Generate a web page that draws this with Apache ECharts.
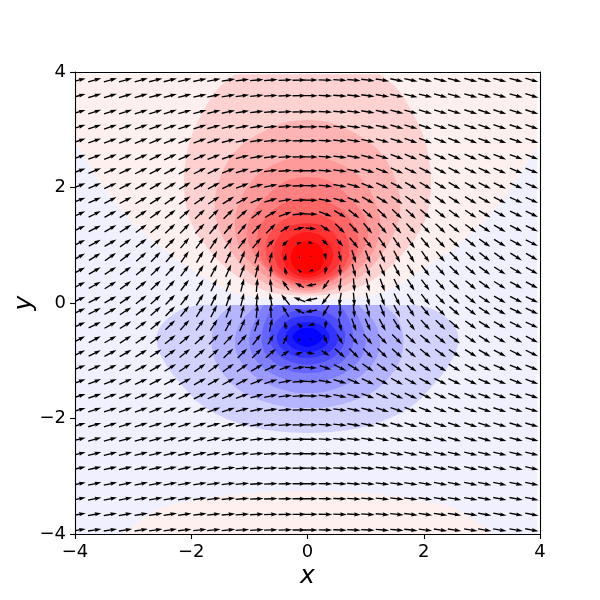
<!DOCTYPE html>
<html>
<head>
<meta charset="utf-8">
<style>html,body{margin:0;padding:0;background:#fff}#main{width:600px;height:600px}</style>
<script src="https://cdn.jsdelivr.net/npm/echarts@6/dist/echarts.min.js"></script>
</head>
<body>
<div id="main"></div>
<script>
// quiver grid (spacing is a bit wider near the edges)
var gridX = [-3.93,-3.66,-3.39,-3.13,-2.86,-2.61,-2.36,-2.11,-1.85,-1.61,-1.36,-1.12,-0.87,-0.63,-0.38,-0.14,0.06,0.31,0.56,0.8,1.04,1.29,1.54,1.78,2.03,2.29,2.53,2.81,3.05,3.31,3.59,3.86];
var gridY = [3.86,3.59,3.31,3.05,2.81,2.53,2.29,2.03,1.78,1.54,1.29,1.04,0.8,0.56,0.31,0.06,-0.14,-0.38,-0.63,-0.87,-1.12,-1.36,-1.61,-1.85,-2.11,-2.36,-2.61,-2.86,-3.13,-3.39,-3.66,-3.93];

// arrow direction in degrees, one row per gridY value
var angleRows = [
  [14,15,15,15,15,14,14,13,12,11,9,7,5,4,2,1,0,-2,-4,-5,-7,-9,-11,-12,-13,-14,-14,-15,-15,-15,-15,-16],
  [15,16,16,16,16,15,15,14,13,12,10,8,6,4,3,1,0,-3,-4,-6,-8,-10,-12,-13,-14,-15,-15,-16,-16,-16,-16,-17],
  [16,17,18,18,18,17,17,16,15,14,12,9,7,5,3,1,0,-3,-5,-7,-9,-12,-14,-15,-16,-17,-17,-18,-18,-18,-17,-18],
  [17,18,19,20,20,20,19,18,17,16,13,11,8,6,3,1,0,-3,-6,-8,-11,-13,-16,-17,-18,-19,-20,-20,-20,-19,-18,-19],
  [18,19,20,21,22,22,22,21,20,18,15,12,9,6,3,1,0,-3,-6,-9,-12,-15,-18,-20,-21,-22,-22,-22,-21,-20,-19,-20],
  [19,20,22,23,24,25,25,24,23,21,18,14,10,7,4,1,0,-4,-7,-10,-14,-18,-21,-23,-24,-25,-25,-24,-23,-22,-20,-21],
  [20,22,23,25,26,27,28,27,26,24,21,17,12,8,4,1,0,-4,-8,-12,-17,-21,-24,-26,-27,-28,-27,-26,-25,-23,-22,-22],
  [21,23,25,27,29,30,31,31,30,28,25,21,16,11,6,2,-1,-6,-11,-16,-21,-25,-28,-30,-31,-31,-30,-29,-27,-25,-23,-23],
  [22,24,27,29,31,33,35,35,35,34,32,29,22,16,10,3,-1,-10,-16,-22,-29,-32,-34,-35,-35,-35,-33,-31,-29,-27,-24,-24],
  [24,26,29,31,34,36,39,41,43,44,44,42,38,30,20,6,-2,-20,-30,-38,-42,-44,-44,-43,-41,-39,-36,-34,-31,-29,-26,-25],
  [25,27,30,33,36,39,43,46,48,50,50,50,47,45,34,12,-5,-34,-45,-47,-50,-50,-50,-48,-46,-43,-39,-36,-33,-30,-27,-26],
  [26,28,31,35,38,42,46,50,54,56,55,52,50,47,44,24,-15,-44,-47,-50,-52,-55,-56,-54,-50,-46,-42,-38,-35,-31,-28,-27],
  [30,32,35,38,42,46,50,55,59,62,65,68,72,76,80,84,-88,-80,-76,-72,-68,-65,-62,-59,-55,-50,-46,-42,-38,-35,-32,-31],
  [28,30,33,36,40,44,48,53,58,62,66,70,76,85,102,135,-160,-102,-85,-76,-70,-66,-62,-58,-53,-48,-44,-40,-36,-33,-30,-29],
  [27,29,32,36,39,43,48,53,58,64,70,76,85,97,125,152,-170,-125,-97,-85,-76,-70,-64,-58,-53,-48,-43,-39,-36,-32,-29,-28],
  [25,27,30,34,38,42,46,52,58,64,70,76,85,100,128,158,-168,-128,-100,-85,-76,-70,-64,-58,-52,-46,-42,-38,-34,-30,-27,-26],
  [24,26,29,33,37,41,46,51,58,63,69,75,84,92,120,154,-170,-120,-92,-84,-75,-69,-63,-58,-51,-46,-41,-37,-33,-29,-26,-25],
  [24,26,29,32,36,40,44,48,54,58,62,66,70,78,100,138,-160,-100,-78,-70,-66,-62,-58,-54,-48,-44,-40,-36,-32,-29,-26,-25],
  [27,28,30,33,35,37,39,41,43,45,47,49,52,60,66,65,-52,-66,-60,-52,-49,-47,-45,-43,-41,-39,-37,-35,-33,-30,-28,-28],
  [25,26,28,30,32,34,36,38,40,42,44,45,45,42,34,20,-9,-34,-42,-45,-45,-44,-42,-40,-38,-36,-34,-32,-30,-28,-26,-26],
  [22,23,25,27,29,31,32,34,35,36,36,35,31,26,19,9,-3,-19,-26,-31,-35,-36,-36,-35,-34,-32,-31,-29,-27,-25,-23,-23],
  [20,21,22,24,25,26,27,28,29,29,28,26,22,17,11,5,-2,-11,-17,-22,-26,-28,-29,-29,-28,-27,-26,-25,-24,-22,-21,-21],
  [18,19,20,21,22,23,24,25,25,24,23,20,16,12,7,3,-1,-7,-12,-16,-20,-23,-24,-25,-25,-24,-23,-22,-21,-20,-19,-19],
  [16,17,18,19,20,21,21,21,21,20,18,15,12,8,5,2,-1,-5,-8,-12,-15,-18,-20,-21,-21,-21,-21,-20,-19,-18,-17,-17],
  [15,16,17,17,18,18,18,18,18,16,14,12,9,6,4,1,0,-4,-6,-9,-12,-14,-16,-18,-18,-18,-18,-18,-17,-17,-16,-16],
  [14,15,15,16,16,16,16,15,15,14,12,10,7,5,3,1,0,-3,-5,-7,-10,-12,-14,-15,-15,-16,-16,-16,-16,-15,-15,-15],
  [13,14,14,14,14,14,14,13,13,11,10,8,6,4,2,1,0,-2,-4,-6,-8,-10,-11,-13,-13,-14,-14,-14,-14,-14,-14,-14],
  [12,13,13,13,13,13,12,12,11,10,8,6,5,3,2,1,0,-2,-3,-5,-6,-8,-10,-11,-12,-12,-13,-13,-13,-13,-13,-13],
  [11,12,12,12,12,11,11,10,9,8,7,5,4,3,1,0,0,-1,-3,-4,-5,-7,-8,-9,-10,-11,-11,-12,-12,-12,-12,-12],
  [11,11,11,11,10,10,10,9,8,7,6,5,3,2,1,0,0,-1,-2,-3,-5,-6,-7,-8,-9,-10,-10,-10,-11,-11,-11,-12],
  [10,10,10,10,9,9,9,8,7,6,5,4,3,2,1,0,0,-1,-2,-3,-4,-5,-6,-7,-8,-9,-9,-9,-10,-10,-10,-11],
  [9,9,9,9,9,8,8,7,6,5,5,3,3,2,1,0,0,-1,-2,-3,-3,-5,-5,-6,-7,-8,-8,-9,-9,-9,-9,-10]
];

// arrows near the two poles that are shorter than full length: [row, col, magnitude]
var shortArrows = [
  [10,14,.85],[10,15,.8],[10,16,.8],[10,17,.85],
  [11,13,.75],[11,14,.6],[11,15,.38],[11,16,.38],[11,17,.6],[11,18,.7],
  [12,13,.85],[12,14,.55],[12,15,.2],[12,16,.12],[12,17,.5],[12,18,.8],
  [13,13,.85],[13,14,.6],[13,15,.38],[13,16,.35],[13,17,.6],[13,18,.85],
  [14,14,.85],[14,15,.75],[14,16,.75],[14,17,.85],
  [15,15,.93],[15,16,.93],
  [16,14,.95],[16,15,.8],[16,16,.9],[16,17,.95],
  [17,14,.6],[17,15,.5],[17,16,.5],[17,17,.6],
  [18,13,.85],[18,14,.75],[18,15,.25],[18,16,.15],[18,17,.7],[18,18,.85],
  [19,14,.72],[19,15,.6],[19,16,.6],[19,17,.72],
  [20,14,.9],[20,15,.88],[20,16,.88],[20,17,.9]
];

// filled contours: left half outline as [x, y] from top to bottom, the right half is its mirror
var bgOutline = [[0,7],[-7,7],[-7,-7],[0,-7]];
var paleBlueOutline = [[0,0.07],[-0.76,0.09],[-1.33,0.2],[-1.9,0.52],[-2.48,0.92],[-2.88,1.26],[-3.11,1.49],[-3.52,2.01],[-4,2.79],[-4.6,3.6],[-6,-6],[0,-6]];
var bottomLobeOutline = [[0,-3.25],[-0.82,-3.28],[-1.39,-3.33],[-1.97,-3.42],[-2.54,-3.56],[-3.09,-3.93],[-3.5,-4.3],[0,-5]];

var redOutlines = [
  [[0,4.6],[-0.9,4.3],[-1.25,3.96],[-1.56,3.69],[-1.78,3.34],[-2,2.88],[-2.11,2.36],[-2.12,1.9],[-2.05,1.52],[-1.91,1.21],[-1.72,0.95],[-1.39,0.6],[-1.05,0.36],[-0.65,0.19],[-0.3,0.14],[0,0.13]],
  [[0,3.17],[-0.41,3.12],[-0.82,2.94],[-1.22,2.65],[-1.45,2.3],[-1.59,1.84],[-1.56,1.4],[-1.33,0.92],[-1.05,0.57],[-0.7,0.33],[-0.3,0.2],[0,0.17]],
  [[0,2.53],[-0.38,2.48],[-0.82,2.25],[-1.1,1.9],[-1.25,1.4],[-1.16,0.95],[-0.85,0.57],[-0.55,0.37],[-0.24,0.25],[0,0.21]],
  [[0,2.18],[-0.4,2.1],[-0.75,1.8],[-1,1.45],[-1.04,1.15],[-0.92,0.85],[-0.7,0.58],[-0.45,0.4],[-0.2,0.29],[0,0.26]],
  [[0,1.82],[-0.4,1.73],[-0.7,1.5],[-0.87,1.15],[-0.82,0.82],[-0.62,0.55],[-0.35,0.38],[0,0.3]],
  [[0,1.55],[-0.4,1.45],[-0.65,1.2],[-0.72,0.9],[-0.62,0.62],[-0.35,0.43],[0,0.35]],
  [[0,1.38],[-0.35,1.3],[-0.55,1.05],[-0.58,0.85],[-0.48,0.6],[-0.25,0.45],[0,0.4]],
  [[0,1.23],[-0.3,1.12],[-0.44,0.85],[-0.35,0.6],[-0.18,0.48],[0,0.44]],
  [[0,1.08],[-0.2,1],[-0.29,0.79],[-0.2,0.58],[0,0.5]]
];
var blueOutlines = [
  [[0,0.3],[-1.3,0.15],[-1.9,-0.04],[-2.19,-0.12],[-2.51,-0.38],[-2.6,-0.64],[-2.48,-0.99],[-2.19,-1.39],[-1.79,-1.79],[-1.28,-2.05],[-0.7,-2.2],[0,-2.25]],
  [[0,0.25],[-1,0.15],[-1.33,-0.06],[-1.56,-0.29],[-1.65,-0.67],[-1.56,-1.06],[-1.22,-1.47],[-0.82,-1.68],[-0.36,-1.8],[0,-1.82]],
  [[0,0.1],[-0.75,0.05],[-0.93,-0.09],[-1.16,-0.35],[-1.25,-0.67],[-1.16,-1],[-0.82,-1.33],[-0.36,-1.52],[0,-1.56]],
  [[0,0.05],[-0.7,0],[-0.85,-0.2],[-1,-0.6],[-0.93,-0.93],[-0.66,-1.2],[-0.3,-1.34],[0,-1.37]],
  [[0,0],[-0.5,-0.02],[-0.7,-0.25],[-0.79,-0.6],[-0.72,-0.88],[-0.5,-1.08],[-0.25,-1.19],[0,-1.21]],
  [[0,-0.12],[-0.4,-0.2],[-0.6,-0.4],[-0.65,-0.6],[-0.58,-0.8],[-0.38,-0.98],[0,-1.07]],
  [[0,-0.22],[-0.3,-0.28],[-0.47,-0.45],[-0.53,-0.6],[-0.46,-0.77],[-0.27,-0.9],[0,-0.95]],
  [[0,-0.33],[-0.22,-0.38],[-0.35,-0.5],[-0.38,-0.6],[-0.33,-0.72],[-0.2,-0.81],[0,-0.85]],
  [[0,-0.43],[-0.16,-0.47],[-0.26,-0.59],[-0.16,-0.71],[0,-0.76]]
];
var redShades = ['#ffd2d2','#ffb4b4','#ff9a9a','#ff8080','#ff6666','#ff4d4d','#ff3333','#ff1a1a','#ff0303'];
var blueShades = ['#d2d2ff','#b4b4ff','#9a9aff','#8080ff','#6666ff','#4d4dff','#3333ff','#1a1aff','#0303ff'];
var paleRed = '#fff0f0';
var paleBlue = '#f0f0ff';

var tickValues = [-4,-2,0,2,4];

// heated area stops a little short of the top and right spines
var heatMaxX = 3.95, heatMaxY = 3.96, flatTopY = -0.035;

var bands = [
  {outline: bgOutline, fill: paleRed},
  {outline: paleBlueOutline, fill: paleBlue},
  {outline: bottomLobeOutline, fill: paleRed}
];
redOutlines.forEach(function (o, i) { bands.push({outline: o, fill: redShades[i]}); });
blueOutlines.forEach(function (o, i) { bands.push({outline: o, fill: blueShades[i], cut: true}); });

var magnitude = {};
shortArrows.forEach(function (s) { magnitude[s[0] + '_' + s[1]] = s[2]; });

var arrowData = [];
gridY.forEach(function (y, r) {
  gridX.forEach(function (x, c) {
    var m = magnitude[r + '_' + c];
    arrowData.push([x, y, angleRows[r][c], m === undefined ? 1 : m]);
  });
});

function renderBand(params, api) {
  var band = bands[api.value(0)];
  var pts = band.outline.map(function (p) { return api.coord(p); });
  for (var i = band.outline.length - 2; i > 0; i--) {
    var p = band.outline[i];
    pts.push(api.coord([-p[0], p[1]]));
  }
  var tl = api.coord([-4, band.cut ? flatTopY : heatMaxY]);
  var br = api.coord([heatMaxX, -4]);
  return {
    type: 'polygon',
    shape: {points: pts, smooth: 0.35},
    style: {fill: band.fill},
    clipPath: {type: 'rect', shape: {x: tl[0], y: tl[1], width: br[0] - tl[0], height: br[1] - tl[1]}}
  };
}

var FULL_LEN = 13.6, SHAFT = 1.35;
function renderArrow(params, api) {
  var c = api.coord([api.value(0), api.value(1)]);
  var a = api.value(2) * Math.PI / 180;
  var len = FULL_LEN * api.value(3);
  // mpl shrinks the whole arrow when it gets shorter than the head
  var k = Math.min(1, len / (5 * SHAFT));
  var w = SHAFT * k / 2, hl = 5 * SHAFT * k, ha = 4.5 * SHAFT * k, hw = 3 * SHAFT * k / 2;
  var h = len / 2;
  var local = [[-h, -w], [h - ha, -w], [h - hl, -hw], [h, 0], [h - hl, hw], [h - ha, w], [-h, w]];
  var ca = Math.cos(a), sa = Math.sin(a);
  return {
    type: 'polygon',
    shape: {points: local.map(function (p) {
      return [c[0] + p[0] * ca + p[1] * sa, c[1] - p[0] * sa + p[1] * ca];
    })},
    style: {fill: '#000'}
  };
}

function minusLabel(v) { return String(v).replace('-', '\u2212'); }

var FONT = 'DejaVu Sans';
function axisBase(extra) {
  return Object.assign({
    type: 'value', min: -4, max: 4, interval: 2, z: 5,
    splitLine: {show: false},
    axisLine: {show: true, onZero: false, lineStyle: {color: '#000', width: 1.1}},
    axisTick: {show: true, length: 5, lineStyle: {color: '#000', width: 1.1}},
    axisLabel: {show: true, color: '#000', fontFamily: FONT, fontSize: 18, margin: 9, formatter: minusLabel, customValues: tickValues},
    nameMoveOverlap: false,
    nameTextStyle: {color: '#000', fontFamily: FONT, fontStyle: 'italic', fontSize: 25}
  }, extra);
}
var bare = {axisTick: {show: false}, axisLabel: {show: false}};

var chart = echarts.init(document.getElementById('main'), null, {renderer: 'canvas'});
var yAxisMain = axisBase({position: 'left', name: 'y', nameLocation: 'middle', nameGap: 38, nameRotate: 90});
yAxisMain.axisLabel.padding = [5, 0, 0, 0];
yAxisMain.nameTextStyle.padding = [0, 0, 0, 0];
chart.setOption({
  animation: false,
  backgroundColor: '#fff',
  grid: {left: 75, top: 72, width: 465, height: 462, containLabel: false, outerBoundsMode: 'none'},
  xAxis: [
    axisBase({position: 'bottom', name: 'x', nameLocation: 'middle', nameGap: 30}),
    axisBase(Object.assign({position: 'top'}, bare))
  ],
  yAxis: [
    yAxisMain,
    axisBase(Object.assign({position: 'right'}, bare))
  ],
  series: [
    {
      type: 'custom', z: 1, clip: true, silent: true,
      coordinateSystem: 'cartesian2d',
      renderItem: renderBand,
      encode: {x: 0, y: 0},
      data: bands.map(function (b, i) { return [i]; })
    },
    {
      type: 'custom', z: 2, clip: true, silent: true,
      coordinateSystem: 'cartesian2d',
      renderItem: renderArrow,
      encode: {x: 0, y: 1},
      data: arrowData
    }
  ]
});
</script>
</body>
</html>
